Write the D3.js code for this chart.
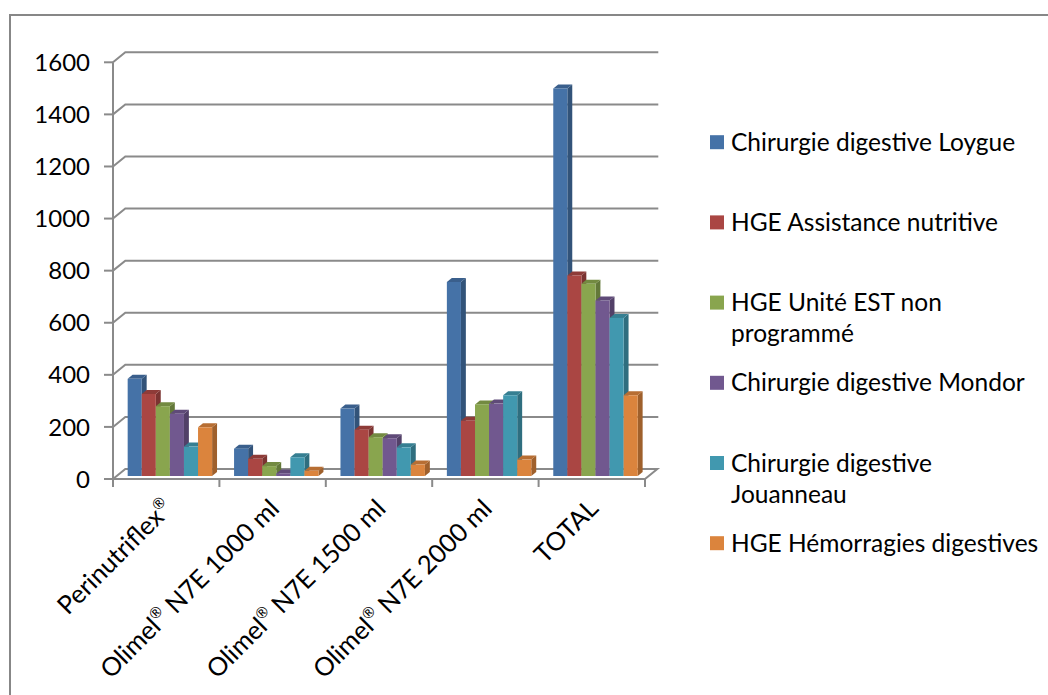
<!DOCTYPE html>
<html><head><meta charset="utf-8">
<script src="https://cdn.jsdelivr.net/npm/d3@7"></script>
<style>
html,body{margin:0;padding:0;background:#fff;}
svg{display:block;font-family:Lato,"Open Sans",sans-serif;}
</style>
</head><body>
<svg id="chart" width="1048" height="695"></svg>
<script>
// ---- data ----
const categories = ["Perinutriflex®", "Olimel® N7E 1000 ml", "Olimel® N7E 1500 ml", "Olimel® N7E 2000 ml", "TOTAL"];
const seriesNames = ["Chirurgie digestive Loygue", "HGE Assistance nutritive", "HGE Unité EST non\nprogrammé", "Chirurgie digestive Mondor", "Chirurgie digestive\nJouanneau", "HGE Hémorragies digestives"];
const loygue     = [373, 105, 259, 745, 1488];
const assistance = [315, 66, 178, 212, 770];
const uniteEst   = [268, 38, 149, 275, 738];
const mondor     = [239, 10, 145, 278, 674];
const jouanneau  = [113, 72, 110, 310, 607];
const hemorragies= [187, 20, 44, 63, 310];
const yTicks = [0, 200, 400, 600, 800, 1000, 1200, 1400, 1600];
const seriesColors = ["#4572A7", "#AA4643", "#89A54E", "#71588F", "#4198AF", "#DB843D"];

const seriesValues = [loygue, assistance, uniteEst, mondor, jouanneau, hemorragies];

// ---- layout ----
const svg = d3.select("#chart");
const W = 1048, H = 695;
const depthX = 12.3, depthY = -10;      // full wall depth projection
const zFront = 0.3, zBack = 0.7;        // bar depth inside the floor
const gridColor = "#8a8a8a";

const x = d3.scaleBand().domain(categories).range([113, 645]).paddingInner(0).paddingOuter(0);
const xs = d3.scaleBand().domain(d3.range(seriesNames.length)).range([0, x.bandwidth()]).paddingInner(0).paddingOuter(0.78);
const y = d3.scaleLinear().domain([0, 1600]).range([479, 62.3]);

// outer frame
svg.append("rect").attr("x", 10).attr("y", 15).attr("width", W).attr("height", H)
  .attr("fill", "none").attr("stroke", "#878787").attr("stroke-width", 2);

const xL = x.range()[0], xR = x.range()[1];

// back wall gridlines + side wall diagonals
const grid = svg.append("g").attr("stroke", gridColor).attr("stroke-width", 2).attr("fill", "none");
yTicks.forEach(t => {
  const yf = y(t), yb = y(t) + depthY;
  if (t === 0) {
    grid.append("path").attr("d", `M${xL},${yf}L${xL + depthX},${yb}L${xR + depthX},${yb}L${xR},${yf}Z`);
  } else {
    grid.append("path").attr("d", `M${xL},${yf}L${xL + depthX},${yb}L${xR + depthX + 1},${yb}`);
  }
  grid.append("line").attr("x1", xL - 9).attr("x2", xL).attr("y1", yf).attr("y2", yf);
});
grid.append("line").attr("x1", xL).attr("x2", xL).attr("y1", y(1600)).attr("y2", y(0));
const xTickPos = categories.map(c => x(c)).concat([xR]);
xTickPos.forEach(p => grid.append("line").attr("x1", p).attr("x2", p).attr("y1", y(0)).attr("y2", y(0) + 8));

// y labels
svg.append("g").selectAll("text").data(yTicks).join("text")
  .attr("x", 90).attr("y", d => y(d)).attr("dy", "0.36em")
  .attr("text-anchor", "end").attr("font-size", 24).attr("fill", "#000")
  .text(d => d);

// bars (3D)
const bars = svg.append("g");
categories.forEach((cat, ci) => {
  seriesValues.forEach((vals, si) => {
    const v = vals[ci];
    const x0 = x(cat) + xs(si) + zFront * depthX;
    const w = xs.bandwidth();
    const yTop = y(v) + zFront * depthY;
    const yBot = y(0) + zFront * depthY;
    const ddx = (zBack - zFront) * depthX, ddy = (zBack - zFront) * depthY;
    const c = d3.color(seriesColors[si]);
    bars.append("path")
      .attr("d", `M${x0 + w},${yBot}L${x0 + w + ddx},${yBot + ddy}L${x0 + w + ddx},${yTop + ddy}L${x0 + w},${yTop}Z`)
      .attr("fill", c.darker(0.9));
    bars.append("path")
      .attr("d", `M${x0},${yTop}L${x0 + ddx},${yTop + ddy}L${x0 + w + ddx},${yTop + ddy}L${x0 + w},${yTop}Z`)
      .attr("fill", c.darker(0.5));
    bars.append("rect").attr("x", x0).attr("y", yTop).attr("width", w).attr("height", Math.max(0, yBot - yTop))
      .attr("fill", c);
  });
});

// category labels
const catG = svg.append("g");
categories.forEach(cat => {
  const cx = x(cat) + x.bandwidth() / 2;
  const t = catG.append("text")
    .attr("transform", `translate(${cx + 8},${510}) rotate(-45)`)
    .attr("text-anchor", "end").attr("font-size", 25.5).attr("fill", "#000");
  const parts = cat.split("®");
  parts.forEach((p, i) => {
    if (p.length) t.append("tspan").attr("dy", i > 0 ? "0.42em" : null).text(p);
    if (i < parts.length - 1) {
      t.append("tspan").attr("font-size", 15).attr("dy", "-0.7em").text("®");
    }
  });
});

// legend
const legY = d3.scaleLinear().domain([0, 1]).range([150.7, 150.7 + 80.2]);
const leg = svg.append("g");
seriesNames.forEach((name, i) => {
  const by = legY(i);
  leg.append("rect").attr("x", 710).attr("y", by - 15.5).attr("width", 14).attr("height", 14)
    .attr("fill", seriesColors[i]);
  const t = leg.append("text").attr("x", 731).attr("y", by).attr("font-size", 24.5).attr("fill", "#000");
  name.split("\n").forEach((line, li) => {
    t.append("tspan").attr("x", 731).attr("y", by + li * 31).text(line);
  });
});
</script>
</body></html>
